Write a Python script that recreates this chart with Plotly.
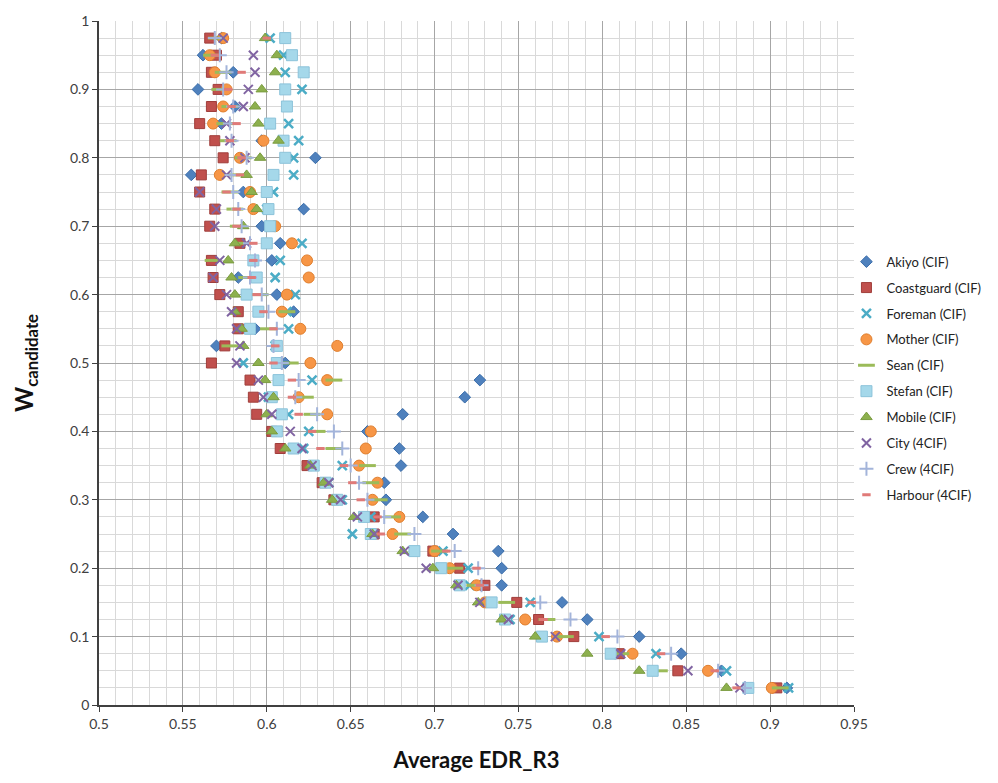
import plotly.graph_objects as go

w_candidate = [0.975, 0.95, 0.925, 0.9, 0.875, 0.85, 0.825, 0.8, 0.775, 0.75,
               0.725, 0.7, 0.675, 0.65, 0.625, 0.6, 0.575, 0.55, 0.525, 0.5,
               0.475, 0.45, 0.425, 0.4, 0.375, 0.35, 0.325, 0.3, 0.275, 0.25,
               0.225, 0.2, 0.175, 0.15, 0.125, 0.1, 0.075, 0.05, 0.025]

akiyo = [0.573, 0.562, 0.580, 0.559, 0.581, 0.573, 0.597, 0.629, 0.555, 0.586,
         0.622, 0.597, 0.608, 0.603, 0.583, 0.606, 0.616, 0.593, 0.570, 0.611,
         0.727, 0.718, 0.681, 0.660, 0.679, 0.680, 0.670, 0.671, 0.693, 0.711,
         0.738, 0.740, 0.740, 0.776, 0.791, 0.822, 0.847, 0.871, 0.910]
coastguard = [0.566, 0.570, 0.567, 0.571, 0.567, 0.560, 0.569, 0.574, 0.561, 0.560,
              0.569, 0.566, 0.584, 0.567, 0.568, 0.572, 0.583, 0.583, 0.575, 0.567,
              0.590, 0.592, 0.594, 0.603, 0.608, 0.624, 0.633, 0.640, 0.664, 0.664,
              0.699, 0.715, 0.730, 0.749, 0.762, 0.783, 0.810, 0.845, 0.904]
foreman = [0.602, 0.610, 0.611, 0.621, 0.612, 0.613, 0.619, 0.616, 0.616, 0.604,
           0.600, 0.602, 0.621, 0.608, 0.605, 0.617, 0.612, 0.613, 0.605, 0.586,
           0.627, 0.601, 0.613, 0.625, 0.622, 0.645, 0.637, 0.645, 0.662, 0.651,
           0.705, 0.720, 0.721, 0.757, 0.745, 0.798, 0.832, 0.874, 0.911]
mother = [0.574, 0.566, 0.569, 0.576, 0.574, 0.568, 0.598, 0.584, 0.572, 0.590,
          0.592, 0.605, 0.615, 0.624, 0.625, 0.612, 0.609, 0.620, 0.642, 0.626,
          0.636, 0.619, 0.636, 0.662, 0.659, 0.655, 0.666, 0.663, 0.679, 0.675,
          0.700, 0.709, 0.725, 0.730, 0.754, 0.773, 0.818, 0.863, 0.901]
sean = [0.570, 0.567, 0.574, 0.572, 0.578, 0.575, 0.577, 0.586, 0.581, 0.578,
        0.581, 0.583, 0.585, 0.568, 0.588, 0.596, 0.612, 0.601, 0.578, 0.614,
        0.640, 0.623, 0.627, 0.630, 0.640, 0.660, 0.662, 0.667, 0.675, 0.681,
        0.703, 0.712, 0.724, 0.743, 0.767, 0.778, 0.811, 0.834, 0.906]
stefan = [0.611, 0.615, 0.622, 0.611, 0.612, 0.602, 0.610, 0.611, 0.604, 0.600,
          0.601, 0.602, 0.600, 0.592, 0.594, 0.588, 0.595, 0.590, 0.606, 0.606,
          0.607, 0.603, 0.609, 0.606, 0.616, 0.628, 0.635, 0.642, 0.658, 0.662,
          0.688, 0.704, 0.715, 0.734, 0.742, 0.764, 0.805, 0.830, 0.887]
mobile = [0.599, 0.606, 0.605, 0.597, 0.593, 0.595, 0.607, 0.596, 0.588, 0.591,
          0.594, 0.586, 0.581, 0.577, 0.579, 0.581, 0.581, 0.585, 0.586, 0.595,
          0.599, 0.604, 0.600, 0.603, 0.611, 0.626, 0.634, 0.639, 0.652, 0.663,
          0.681, 0.699, 0.713, 0.726, 0.740, 0.760, 0.791, 0.822, 0.874]
city = [0.574, 0.592, 0.593, 0.589, 0.586, 0.576, 0.578, 0.587, 0.576, 0.560,
        0.570, 0.569, 0.588, 0.572, 0.568, 0.576, 0.579, 0.582, 0.584, 0.582,
        0.595, 0.598, 0.603, 0.614, 0.621, 0.627, 0.637, 0.644, 0.654, 0.664,
        0.682, 0.695, 0.714, 0.727, 0.744, 0.772, 0.811, 0.851, 0.882]
crew = [0.569, 0.572, 0.576, 0.574, 0.580, 0.578, 0.579, 0.588, 0.579, 0.580,
        0.583, 0.585, 0.590, 0.593, 0.590, 0.597, 0.601, 0.606, 0.604, 0.609,
        0.619, 0.617, 0.630, 0.640, 0.645, 0.650, 0.655, 0.660, 0.670, 0.688,
        0.712, 0.726, 0.728, 0.763, 0.781, 0.809, 0.841, 0.869, 0.885]
harbour = [0.600, 0.569, 0.585, 0.577, 0.579, 0.582, 0.578, 0.585, 0.584, 0.576,
           0.582, 0.582, 0.592, 0.592, 0.591, 0.594, 0.598, 0.604, 0.605, 0.604,
           0.615, 0.615, 0.619, 0.627, 0.632, 0.646, 0.651, 0.656, 0.666, 0.668,
           0.707, 0.725, 0.727, 0.758, 0.765, 0.802, 0.835, 0.867, 0.880]

series = [
    ("Akiyo (CIF)", akiyo, dict(symbol="diamond", size=9, color="#4F81BD",
                                 line=dict(color="#3A6DAA", width=1))),
    ("Coastguard (CIF)", coastguard, dict(symbol="square", size=10, color="#C0504D",
                                           line=dict(color="#A03E3B", width=1))),
    ("Foreman (CIF)", foreman, dict(symbol="x-thin-open", size=9, color="#4BACC6",
                                     line=dict(color="#4BACC6", width=2.5))),
    ("Mother (CIF)", mother, dict(symbol="circle", size=11, color="#F79646",
                                   line=dict(color="#E07F2E", width=1))),
    ("Sean (CIF)", sean, dict(symbol="line-ew-open", size=12, color="#9BBB59",
                               line=dict(color="#A9C66C", width=3))),
    ("Stefan (CIF)", stefan, dict(symbol="square", size=11, color="#A5D8EA",
                                   line=dict(color="#8CC3DA", width=1))),
    ("Mobile (CIF)", mobile, dict(symbol="triangle-up", size=10, color="#8DB04E",
                                   line=dict(color="#7A9C40", width=1))),
    ("City (4CIF)", city, dict(symbol="x-thin-open", size=9, color="#8064A2",
                                line=dict(color="#8064A2", width=2))),
    ("Crew (4CIF)", crew, dict(symbol="cross-thin-open", size=10, color="#A3B4DA",
                                line=dict(color="#A3B4DA", width=2))),
    ("Harbour (4CIF)", harbour, dict(symbol="line-ew-open", size=6, color="#E07A78",
                                      line=dict(color="#E07A78", width=3))),
]

fig = go.Figure()
for i, (name, xs, mk) in enumerate(series):
    fig.add_trace(go.Scatter(x=xs, y=w_candidate, mode="markers", name=name,
                             marker=mk, legendgroup=f"g{i}"))

tick_font = dict(family="Lato, Open Sans, sans-serif", size=14, color="#404040")

fig.update_layout(
    width=998, height=783,
    margin=dict(l=99, r=143, t=12, b=78),
    paper_bgcolor="white", plot_bgcolor="white",
    showlegend=True,
    legend=dict(x=0.99, xanchor="left", y=0.67, yanchor="top",
                font=dict(family="Lato, Open Sans, sans-serif", size=13, color="#222222"),
                tracegroupgap=6, itemwidth=30, bgcolor="rgba(0,0,0,0)"),
    xaxis=dict(range=[0.5, 0.95], dtick=0.05, tick0=0.5, showgrid=True,
               gridcolor="#A6A6A6", gridwidth=1,
               minor=dict(dtick=0.01, tick0=0.5, showgrid=True, gridcolor="#D9D9D9", gridwidth=1),
               showline=True, linecolor="#404040", linewidth=1.5,
               ticks="outside", ticklen=5, tickcolor="#404040",
               tickfont=tick_font, zeroline=False,
               title=dict(text="<b>Average EDR_R3</b>",
                          font=dict(family="Lato, Open Sans, sans-serif", size=22, color="#111111"),
                          standoff=22)),
    yaxis=dict(range=[0, 1], dtick=0.1, tick0=0, showgrid=True,
               gridcolor="#A6A6A6", gridwidth=1,
               minor=dict(dtick=0.025, tick0=0, showgrid=True, gridcolor="#D9D9D9", gridwidth=1),
               showline=True, linecolor="#404040", linewidth=1.5,
               ticks="outside", ticklen=5, tickcolor="#404040",
               tickfont=tick_font, zeroline=False,
               title=dict(text="<b>W<sub>candidate</sub></b>",
                          font=dict(family="Lato, Open Sans, sans-serif", size=24, color="#111111"),
                          standoff=30)),
)

fig.write_html("out.html")
